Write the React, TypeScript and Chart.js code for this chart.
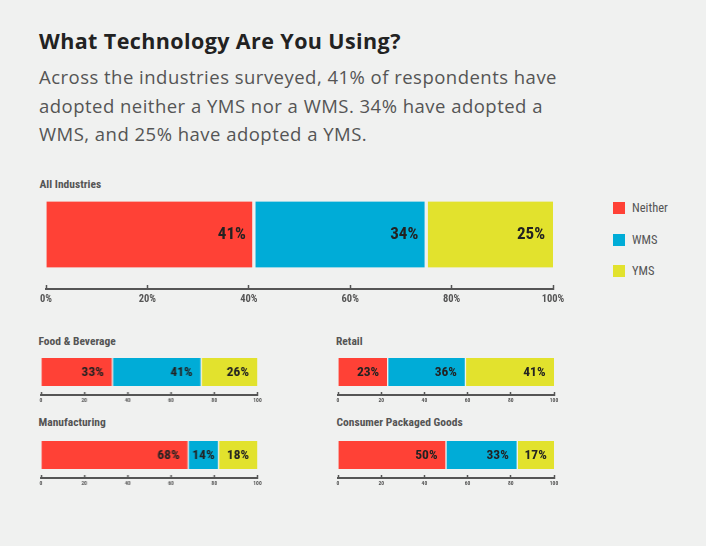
import { useEffect, useRef } from "react";
import { Chart, registerables } from "chart.js";

Chart.register(...registerables);

const industries = ["All Industries", "Food & Beverage", "Retail", "Manufacturing", "Consumer Packaged Goods"];
const seriesNames = ["Neither", "WMS", "YMS"];
const neither = [41, 33, 23, 68, 50];
const wms = [34, 41, 36, 14, 33];
const yms = [25, 26, 41, 18, 17];
const mainTickLabels = ["0%", "20%", "40%", "60%", "80%", "100%"];
const smallTickLabels = ["0", "20", "40", "60", "80", "100"];

const BG = "#F0F1F0";
const COLORS = ["#FF4136", "#00ACD7", "#E2E22D"];
const TEXT = "#222";
const MUTED = "#555";
const HEAD_FONT = "'Open Sans', Lato, sans-serif";
const FONT = "Roboto, 'Open Sans', sans-serif";
// chart.js doesn't validate weight, so the stretch keyword rides along with it
const COND_BOLD = "condensed bold";

type Panel = {
  left: number; // chart area left (page px)
  top: number; // chart area top
  width: number; // chart area width
  height: number; // chart area height
  side: number; // room for edge tick labels
  axis: number; // x axis height
  bar: number;
  gap: number;
  labelSize: number;
  labelPad: number;
  tickSize: number;
  tickLen: number;
  tickPad: number;
  ticks: string[];
};

const big = { side: 20, axis: 21, bar: 66, gap: 2, labelSize: 17, labelPad: 8, tickSize: 10.5, tickLen: 4, tickPad: 8, ticks: mainTickLabels };
const small = { side: 10, axis: 12, bar: 28, gap: 1, labelSize: 13.5, labelPad: 8.5, tickSize: 5.5, tickLen: 3, tickPad: 5, ticks: smallTickLabels };

const panels: Panel[] = [
  { ...big, left: 46, top: 180, width: 507, height: 109 },
  { ...small, left: 41, top: 349, width: 215.5, height: 46 },
  { ...small, left: 338, top: 349, width: 216, height: 46 },
  { ...small, left: 41, top: 432, width: 215.5, height: 46 },
  { ...small, left: 338, top: 432, width: 216, height: 46 },
];

// where each panel's heading sits
const headings = [
  { x: 39.5, y: 178 },
  { x: 38.5, y: 335 },
  { x: 336, y: 335 },
  { x: 38.5, y: 416 },
  { x: 336.5, y: 416 },
];

const valueLabels = {
  id: "valueLabels",
  afterDatasetsDraw(chart: any, _args: any, opts: any) {
    const { ctx } = chart;
    ctx.save();
    ctx.font = `${COND_BOLD} ${opts.size}px ${FONT}`;
    ctx.fillStyle = TEXT;
    ctx.textBaseline = "middle";
    chart.data.datasets.forEach((ds: any, i: number) => {
      chart.getDatasetMeta(i).data.forEach((bar: any, j: number) => {
        const { x, y, base } = bar.getProps(["x", "y", "base"], true);
        const text = `${ds.data[j]}%`;
        const w = ctx.measureText(text).width;
        if (w + 2 * opts.pad > x - base) {
          ctx.textAlign = "center";
          ctx.fillText(text, (x + base) / 2, y + 0.5);
        } else {
          ctx.textAlign = "right";
          ctx.fillText(text, x - opts.pad, y + 0.5);
        }
      });
    });
    ctx.restore();
  },
};

function StackedBar({ index }: { index: number }) {
  const chartRef = useRef<HTMLCanvasElement | null>(null);
  const p = panels[index];

  useEffect(() => {
    const ctx = chartRef.current?.getContext("2d");
    if (!ctx) return;

    const values = [neither[index], wms[index], yms[index]];

    const chart = new Chart(ctx, {
      type: "bar",
      data: {
        labels: [industries[index]],
        datasets: seriesNames.map((name, i) => ({
          label: name,
          data: [values[i]],
          backgroundColor: COLORS[i],
          borderColor: BG,
          borderSkipped: false,
          borderWidth: { left: i > 0 ? p.gap : 0, right: i < 2 ? p.gap : 0, top: 0, bottom: 0 },
          barThickness: p.bar,
        })),
      },
      plugins: [valueLabels],
      options: {
        indexAxis: "y",
        animation: false,
        responsive: true,
        maintainAspectRatio: false,
        layout: { padding: { left: p.side, right: p.side, top: 0, bottom: 0 } },
        plugins: {
          legend: { display: false },
          tooltip: { enabled: false },
          valueLabels: { size: p.labelSize, pad: p.labelPad },
        } as any,
        scales: {
          x: {
            type: "linear",
            stacked: true,
            min: 0,
            max: 100,
            ticks: {
              stepSize: 20,
              maxRotation: 0,
              autoSkip: false,
              padding: p.tickPad,
              color: MUTED,
              font: { family: FONT, size: p.tickSize, weight: COND_BOLD as any },
              callback: (_v: any, i: number) => p.ticks[i],
            },
            grid: {
              drawOnChartArea: false,
              drawTicks: true,
              tickLength: -p.tickLen,
              tickColor: MUTED,
              tickWidth: 1.5,
            },
            border: { color: MUTED, width: 2 },
            afterFit: (scale: any) => {
              scale.height = p.axis;
            },
          },
          y: { stacked: true, display: false },
        },
      },
    });

    return () => chart.destroy();
  }, [index, p]);

  return (
    <div
      style={{
        position: "absolute",
        left: p.left - p.side,
        top: p.top,
        width: p.width + 2 * p.side,
        height: p.height + p.axis,
      }}
    >
      <canvas ref={chartRef} />
    </div>
  );
}

export default function App() {
  return (
    <div style={{ position: "fixed", left: 0, top: 0, width: 706, height: 546, background: BG, overflow: "hidden" }}>
      <div
        style={{
          position: "absolute",
          left: 39,
          top: 30,
          fontFamily: HEAD_FONT,
          fontWeight: 700,
          fontSize: 21.5,
          lineHeight: "21px",
          color: TEXT,
          whiteSpace: "nowrap",
          letterSpacing: 0.4,
        }}
      >
        What Technology Are You Using?
      </div>
      <div
        style={{
          position: "absolute",
          left: 39,
          top: 63,
          fontFamily: HEAD_FONT,
          fontSize: 18.5,
          lineHeight: "28.7px",
          color: MUTED,
          whiteSpace: "nowrap",
          letterSpacing: 0.48,
        }}
      >
        Across the industries surveyed, 41% of respondents have
        <br />
        adopted neither a YMS nor a WMS. 34% have adopted a
        <br />
        WMS, and 25% have adopted a YMS.
      </div>

      {industries.map((name, i) => (
        <div
          key={name}
          style={{
            position: "absolute",
            left: headings[i].x,
            top: headings[i].y,
            fontFamily: FONT,
            fontStretch: "condensed",
            fontWeight: 700,
            fontSize: 11.5,
            lineHeight: "12px",
            color: MUTED,
            whiteSpace: "nowrap",
          }}
        >
          {name}
        </div>
      ))}

      {industries.map((name, i) => (
        <StackedBar key={name} index={i} />
      ))}

      <div
        style={{
          position: "absolute",
          left: 613,
          top: 202,
          fontFamily: FONT,
          fontStretch: "condensed",
          fontSize: 12.5,
          color: MUTED,
        }}
      >
        {seriesNames.map((name, i) => (
          <div key={name} style={{ display: "flex", alignItems: "center", height: 12, marginBottom: 19.5 }}>
            <span style={{ width: 12, height: 12, background: COLORS[i], marginRight: 7 }} />
            <span style={{ lineHeight: "12px" }}>{name}</span>
          </div>
        ))}
      </div>
    </div>
  );
}
